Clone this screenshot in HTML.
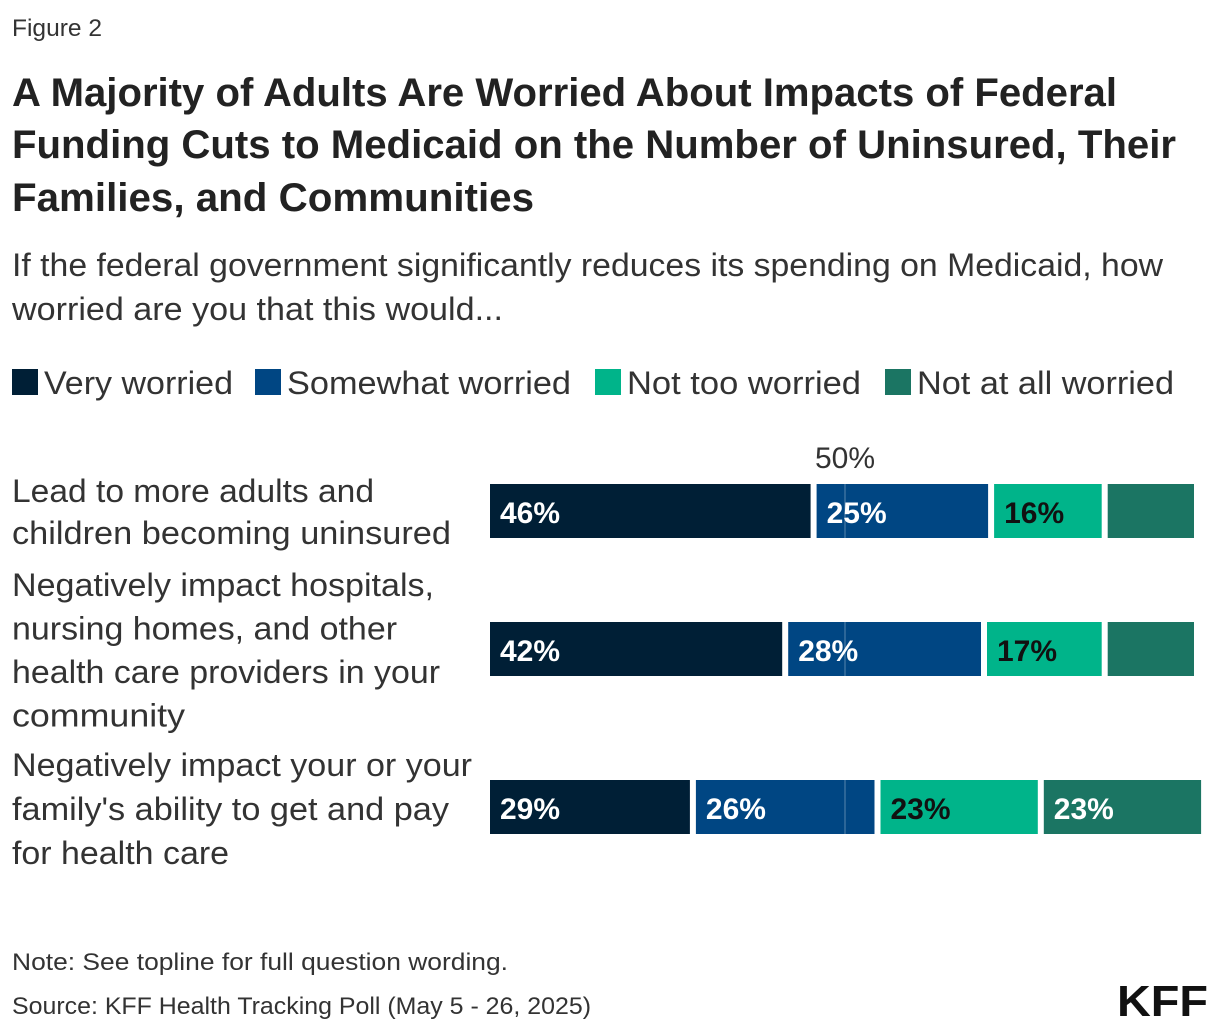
<!DOCTYPE html>
<html><head><meta charset="utf-8"><style>
html,body{margin:0;padding:0;background:#fff;}
svg{display:block;font-family:"Liberation Sans",sans-serif;}
</style></head><body>
<svg id="chart" width="1220" height="1032" viewBox="0 0 1220 1032">
<text x="12" y="36" font-size="24" fill="#333" textLength="90" lengthAdjust="spacingAndGlyphs">Figure 2</text>
<g font-weight="bold" font-size="40" fill="#222">
<text x="12" y="106" textLength="1105" lengthAdjust="spacingAndGlyphs">A Majority of Adults Are Worried About Impacts of Federal</text>
<text x="12" y="158" textLength="1164" lengthAdjust="spacingAndGlyphs">Funding Cuts to Medicaid on the Number of Uninsured, Their</text>
<text x="12" y="211" textLength="522" lengthAdjust="spacingAndGlyphs">Families, and Communities</text>
</g>
<g font-size="32" fill="#333">
<text x="12" y="276" textLength="1151" lengthAdjust="spacingAndGlyphs">If the federal government significantly reduces its spending on Medicaid, how</text>
<text x="12" y="320" textLength="491" lengthAdjust="spacingAndGlyphs">worried are you that this would...</text>
</g>
<g id="legend"></g>
<g id="cats"></g>
<g id="bars"></g>
<text x="845" y="468" font-size="30" fill="#333" text-anchor="middle">50%</text>
<text x="12" y="970" font-size="24" fill="#333" textLength="496" lengthAdjust="spacingAndGlyphs">Note: See topline for full question wording.</text>
<text x="12" y="1014" font-size="24" fill="#333" textLength="579" lengthAdjust="spacingAndGlyphs">Source: KFF Health Tracking Poll (May 5 - 26, 2025)</text>
<text x="1117" y="1016" font-size="44" font-weight="bold" fill="#111" textLength="91" lengthAdjust="spacingAndGlyphs">KFF</text>
</svg>
<script>
const categories = [
  ["Lead to more adults and","children becoming uninsured"],
  ["Negatively impact hospitals,","nursing homes, and other","health care providers in your","community"],
  ["Negatively impact your or your","family's ability to get and pay","for health care"]
];
const seriesNames = ["Very worried","Somewhat worried","Not too worried","Not at all worried"];
const veryWorried = [46,42,29];
const somewhatWorried = [25,28,26];
const notTooWorried = [16,17,23];
const notAtAllWorried = [13,13,23];
const printedNotAtAll = ["","","23%"];
const midValue = 50;

const colors = ["#001f36","#004683","#00b48a","#1b7563"];
const textColors = ["#fff","#fff","#111","#fff"];
const NS = "http://www.w3.org/2000/svg";
const x0 = 490, scale = 7.1, gap = 6, barH = 54;
const rowY = [484,622,780];
const xPos = v => x0 + v*scale;
function mk(tag, attrs, parent){const e=document.createElementNS(NS,tag);for(const k in attrs)e.setAttribute(k,attrs[k]);parent.appendChild(e);return e;}

// legend
const leg = document.getElementById('legend');
const legX = [12,255,595,885], legW=[189,284,234,257];
seriesNames.forEach((n,i)=>{
  const r = mk('rect',{x:legX[i],y:369,width:26,height:26,fill:colors[i]},leg);
  
  
  const t = mk('text',{x:legX[i]+32,y:394,'font-size':32,fill:'#333',textLength:legW[i],lengthAdjust:'spacingAndGlyphs'},leg);
  t.textContent = n;
  
  
});

// categories
const cg = document.getElementById('cats');
const catBase = [502,596,776];
const catW = [[362,439],[422,385,428,173],[460,437,217]];
categories.forEach((lines,ci)=>{
  lines.forEach((l,li)=>{
    const t = mk('text',{x:12,y:catBase[ci]+li*(ci===0?42:(ci===1?43.5:44)),'font-size':32,fill:'#333',textLength:catW[ci][li],lengthAdjust:'spacingAndGlyphs'},cg);
    t.textContent = l;
    
    
  });
});

// bars
const bg = document.getElementById('bars');
const series = [veryWorried,somewhatWorried,notTooWorried,notAtAllWorried];
categories.forEach((c,ci)=>{
  let cum = 0;
  series.forEach((s,si)=>{
    const v = s[ci];
    const r = mk('rect',{x:xPos(cum),y:rowY[ci],width:Math.max(0,v*scale-gap),height:barH,fill:colors[si]},bg);
    
    
    const label = si===3 ? printedNotAtAll[ci] : v+'%';
    if(label){
      const t = mk('text',{x:xPos(cum)+10,y:rowY[ci]+39,'font-size':30,'font-weight':'bold',fill:textColors[si]},bg);
      t.textContent = label;
      
      
    }
    cum += v;
  });
});
const ml = mk('line',{x1:xPos(midValue),x2:xPos(midValue),y1:476,y2:840,stroke:'rgba(255,255,255,0.35)','stroke-width':1},bg);


</script>
</body></html>
